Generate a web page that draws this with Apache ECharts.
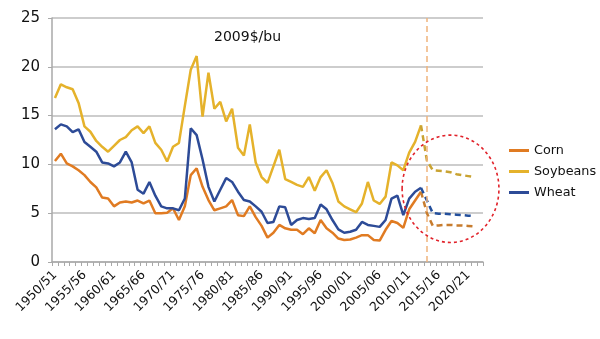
<!DOCTYPE html>
<html>
<head>
<meta charset="utf-8">
<script src="https://cdn.jsdelivr.net/npm/echarts@6/dist/echarts.min.js"></script>
<style>
html,body{margin:0;padding:0;background:#fff;}
#chart{width:600px;height:339px;}
</style>
</head>
<body>
<div id="chart"></div>
<script>
const categories = ["1950/51","1951/52","1952/53","1953/54","1954/55","1955/56","1956/57","1957/58","1958/59","1959/60",
"1960/61","1961/62","1962/63","1963/64","1964/65","1965/66","1966/67","1967/68","1968/69","1969/70",
"1970/71","1971/72","1972/73","1973/74","1974/75","1975/76","1976/77","1977/78","1978/79","1979/80",
"1980/81","1981/82","1982/83","1983/84","1984/85","1985/86","1986/87","1987/88","1988/89","1989/90",
"1990/91","1991/92","1992/93","1993/94","1994/95","1995/96","1996/97","1997/98","1998/99","1999/00",
"2000/01","2001/02","2002/03","2003/04","2004/05","2005/06","2006/07","2007/08","2008/09","2009/10",
"2010/11","2011/12","2012/13","2013/14","2014/15","2015/16","2016/17","2017/18","2018/19","2019/20",
"2020/21","2021/22","2022/23"];

// Historical prices, 2009$/bu (1950/51 .. 2012/13)
const cornHist = [10.35,11.1,10.1,9.8,9.4,8.9,8.2,7.65,6.6,6.5,
5.7,6.1,6.2,6.1,6.3,6.0,6.3,5.0,5.0,5.05,
5.5,4.3,5.7,8.9,9.6,7.7,6.35,5.3,5.5,5.7,
6.35,4.8,4.7,5.7,4.6,3.7,2.5,3.0,3.8,3.45,
3.3,3.3,2.85,3.45,2.95,4.3,3.45,3.0,2.4,2.25,
2.3,2.5,2.75,2.75,2.25,2.2,3.3,4.2,4.0,3.5,
5.4,6.3,7.2];
const soyHist = [16.8,18.2,17.9,17.7,16.3,13.9,13.35,12.4,11.8,11.3,
11.9,12.5,12.8,13.5,13.9,13.2,13.9,12.2,11.5,10.3,
11.8,12.2,16.0,19.7,21.1,14.9,19.4,15.7,16.4,14.4,
15.7,11.7,10.9,14.1,10.2,8.7,8.1,9.8,11.5,8.5,
8.2,7.9,7.7,8.7,7.3,8.7,9.4,8.1,6.2,5.7,
5.4,5.1,6.0,8.2,6.3,5.95,6.7,10.2,9.9,9.4,
11.2,12.3,14.0];
const wheatHist = [13.6,14.1,13.9,13.3,13.6,12.3,11.8,11.3,10.2,10.1,
9.8,10.2,11.3,10.2,7.4,7.0,8.2,6.8,5.7,5.5,
5.5,5.3,6.5,13.7,13.0,10.5,7.7,6.2,7.4,8.6,
8.2,7.2,6.35,6.2,5.7,5.15,4.0,4.1,5.7,5.6,
3.8,4.3,4.5,4.4,4.5,5.9,5.4,4.3,3.35,3.0,
3.1,3.3,4.1,3.8,3.7,3.6,4.3,6.5,6.8,4.8,
6.5,7.2,7.6];

// Projections (2012/13 .. 2021/22)
const projStart = "2012/13";
const cornProj = [7.2,5.0,3.7,3.75,3.8,3.8,3.75,3.75,3.7,3.65];
const soyProj = [14.0,10.4,9.4,9.35,9.3,9.2,9.0,8.9,8.8,8.7];
const wheatProj = [7.6,6.3,5.0,4.95,4.95,4.9,4.85,4.8,4.75,4.7];

const dividerCategory = "2013/14";
const yTicks = {min:0, max:25, interval:5};

// annotation ellipse, in data units
const ellipseCenter = ["2017/18", 7.5];
const ellipseHalfWidthCats = 8.2;
const ellipseHalfHeightVal = 5.5;

function fullHist(arr){ const out = categories.map(()=>null); arr.forEach((v,i)=>out[i]=v); return out; }
function fullProj(arr){ const out = categories.map(()=>null); const s = categories.indexOf(projStart); arr.forEach((v,i)=>out[s+i]=v); return out; }

const FONT = "DejaVu Sans";
const colors = {corn:'#e07b22', soy:'#e5b22b', wheat:'#2d4b97'};
const projColors = {corn:'#c77c2e', soy:'#c9a332', wheat:'#234f9c'};

const chart = echarts.init(document.getElementById('chart'), null, {renderer:'canvas'});
const option = {
  animation:false,
  backgroundColor:'#ffffff',
  textStyle:{fontFamily:FONT},
  title:{text:'2009$/bu', left:209, top:25, textStyle:{fontFamily:FONT, fontSize:14, fontWeight:'normal', color:'#111'}},
  grid:{left:52, right:117, top:18, bottom:77, containLabel:false},
  legend:{
    data:['Corn','Soybeans','Wheat'], orient:'vertical', left:504, top:139, itemGap:8,
    icon:'rect', itemWidth:20, itemHeight:3,
    textStyle:{fontFamily:FONT, fontSize:12.8, color:'#111'}
  },
  xAxis:{
    type:'category', data:categories, boundaryGap:true,
    axisLine:{lineStyle:{color:'#a9a9a9', width:1.5}},
    axisTick:{show:true, interval:0, length:4, lineStyle:{color:'#a9a9a9'}},
    axisLabel:{interval:4, rotate:45, fontSize:12.5, color:'#111', margin:11, fontFamily:FONT},
    splitLine:{show:false}
  },
  yAxis:{
    type:'value', min:yTicks.min, max:yTicks.max, interval:yTicks.interval,
    axisLine:{show:true, lineStyle:{color:'#a9a9a9', width:1.5}},
    axisTick:{show:true, length:4, lineStyle:{color:'#a9a9a9'}},
    axisLabel:{fontSize:15, color:'#111', margin:12, fontFamily:FONT},
    splitLine:{lineStyle:{color:'#bdbdbd', width:1.5}}
  },
  series:[
    {name:'Corn', type:'line', data:fullHist(cornHist), symbol:'none', color:colors.corn, lineStyle:{width:2.5, color:colors.corn}, z:3,
     markLine:{silent:true, symbol:['none','none'], label:{show:false}, lineStyle:{color:'#f0b47c', type:[6,4], width:1.5},
       emphasis:{disabled:true},
       data:[[{coord:[dividerCategory, yTicks.min]}, {coord:[dividerCategory, yTicks.max]}]]}},
    {name:'Soybeans', type:'line', data:fullHist(soyHist), symbol:'none', color:colors.soy, lineStyle:{width:2.5, color:colors.soy}, z:2},
    {name:'Wheat', type:'line', data:fullHist(wheatHist), symbol:'none', color:colors.wheat, lineStyle:{width:2.5, color:colors.wheat}, z:4},
    {name:'Corn projection', type:'line', data:fullProj(cornProj), symbol:'none', lineStyle:{width:2.5, color:projColors.corn, type:[6,4]}, z:3},
    {name:'Soybeans projection', type:'line', data:fullProj(soyProj), symbol:'none', lineStyle:{width:2.5, color:projColors.soy, type:[6,4]}, z:2},
    {name:'Wheat projection', type:'line', data:fullProj(wheatProj), symbol:'none', lineStyle:{width:2.5, color:projColors.wheat, type:[6,4]}, z:4}
  ]
};
chart.setOption(option);

const c = chart.convertToPixel({gridIndex:0}, ellipseCenter);
const a = chart.convertToPixel({gridIndex:0}, [categories[0], 0]);
const b = chart.convertToPixel({gridIndex:0}, [categories[10], ellipseHalfHeightVal]);
const catW = (b[0]-a[0])/10;
chart.setOption({
  graphic:[{type:'ellipse', z:100, silent:true,
    shape:{cx:c[0], cy:c[1], rx:catW*ellipseHalfWidthCats, ry:(a[1]-b[1])},
    style:{fill:'none', stroke:'#e1232b', lineWidth:1.6, lineDash:[3,3]}}]
});
</script>
</body>
</html>
